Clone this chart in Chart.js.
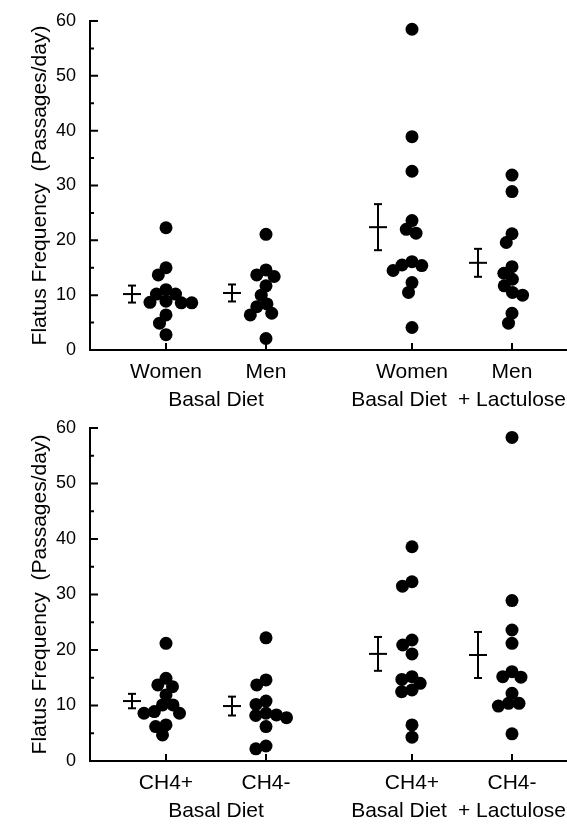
<!DOCTYPE html>
<html>
<head>
<meta charset="utf-8">
<script src="https://cdn.jsdelivr.net/npm/chart.js@4.4.0/dist/chart.umd.min.js"></script>
<style>
  html, body { margin: 0; padding: 0; background: #fff; }
  canvas { display: block; }
</style>
</head>
<body>
<canvas id="sexChart" width="567" height="412"></canvas>
<canvas id="methaneChart" width="567" height="412"></canvas>
<script>
// y axis
const yTicks = [0, 10, 20, 30, 40, 50, 60];
const yTitle = 'Flatus Frequency  (Passages/day)';

// top panel: women / men, basal diet vs basal diet + lactulose
const sexLabels = ['Women', 'Men', 'Women', 'Men'];
const womenBasal = [22.3, 15.0, 13.7, 11.0, 10.2, 10.2, 8.9, 8.7, 8.6, 8.6, 6.4, 4.9, 2.8];
const menBasal = [21.1, 14.6, 13.7, 13.4, 11.7, 10.0, 8.4, 7.9, 6.7, 6.4, 2.1];
const womenLact = [58.5, 38.9, 32.6, 23.6, 22.0, 21.3, 16.1, 15.5, 15.4, 14.5, 12.3, 10.5, 4.1];
const menLact = [31.9, 28.9, 21.2, 19.6, 15.2, 14.0, 12.9, 11.7, 10.5, 10.0, 6.7, 4.9];
const sexMean = [10.2, 10.4, 22.4, 15.9];
const sexSE = [1.55, 1.55, 4.2, 2.55];

// bottom panel: methane producers (CH4+) / non producers (CH4-)
const methaneLabels = ['CH4+', 'CH4-', 'CH4+', 'CH4-'];
const ch4PosBasal = [21.2, 14.9, 13.7, 13.4, 11.9, 10.1, 10.1, 8.9, 8.6, 8.6, 6.5, 6.2, 4.7];
const ch4NegBasal = [22.2, 14.6, 13.7, 10.8, 10.2, 8.6, 8.3, 8.2, 7.8, 6.2, 2.7, 2.2];
const ch4PosLact = [38.6, 32.3, 31.5, 21.8, 20.9, 19.3, 15.2, 14.7, 14.0, 12.8, 12.5, 6.5, 4.3];
const ch4NegLact = [58.3, 28.9, 23.6, 21.2, 16.1, 15.2, 15.1, 12.2, 10.4, 10.4, 9.9, 4.9];
const methaneMean = [10.8, 9.9, 19.3, 19.1];
const methaneSE = [1.3, 1.7, 3.05, 4.15];

const dietLabels = ['Basal Diet', 'Basal Diet', '+ Lactulose'];

const FONT = 'Liberation Sans, Arial, Helvetica, sans-serif';
const X_MIN = 0.24, X_MAX = 5.01;
const PX_X = 100;      // px per x unit (477px plot width / 4.77)
const PX_Y = 5.5;      // px per y unit
const MIN_D = 10.5;    // dot spacing in the swarm, px
const BAR_SHIFT = 0.34;

// category centre: two groups of two, with a wider gap between groups
function groupPos(i) {
  return 1 + i + (i > 1 ? 0.46 : 0);
}

// simple beeswarm so that dots with similar values sit side by side
function swarm(values, centre) {
  const placed = [];
  return values.slice().sort((a, b) => b - a).map(v => {
    const py = v * PX_Y;
    const cands = [0];
    placed.forEach(p => {
      const dy = Math.abs(p.py - py);
      if (dy < MIN_D) {
        const w = Math.sqrt(MIN_D * MIN_D - dy * dy);
        cands.push(p.px - w, p.px + w);
      }
    });
    cands.sort((a, b) => Math.abs(a) - Math.abs(b));
    const px = cands.find(c => placed.every(p => Math.hypot(p.px - c, p.py - py) >= MIN_D - 0.01));
    placed.push({ px, py });
    return { x: centre + px / PX_X, y: v };
  });
}

// inward tick marks like the original
const innerTicks = {
  id: 'innerTicks',
  afterDraw(chart) {
    const ctx = chart.ctx;
    const xs = chart.scales.x, ys = chart.scales.y;
    ctx.save();
    ctx.strokeStyle = '#000';
    ctx.lineWidth = 2;
    ctx.beginPath();
    for (let i = 1; i < yTicks.length; i++) {
      const y = ys.getPixelForValue(yTicks[i]);
      ctx.moveTo(xs.left, y);
      ctx.lineTo(xs.left + 8, y);
      const ym = ys.getPixelForValue((yTicks[i] + yTicks[i - 1]) / 2);
      ctx.moveTo(xs.left, ym);
      ctx.lineTo(xs.left + 4, ym);
    }
    for (let i = 0; i < 4; i++) {
      const x = xs.getPixelForValue(groupPos(i));
      ctx.moveTo(x, ys.bottom);
      ctx.lineTo(x, ys.bottom - 7);
    }
    ctx.stroke();
    ctx.restore();
  }
};

function makePanel(id, groups, means, ses, catLabels, padTop, axisHeight) {
  const datasets = [];
  groups.forEach((vals, i) => {
    datasets.push({
      type: 'scatter',
      data: swarm(vals, groupPos(i)),
      pointRadius: 6.5,
      pointBorderWidth: 0,
      backgroundColor: '#000',
      borderColor: '#000'
    });
    const bx = groupPos(i) - BAR_SHIFT;
    datasets.push({
      type: 'line',
      data: [{ x: bx, y: means[i] - ses[i] }, { x: bx, y: means[i] + ses[i] }],
      borderColor: '#000',
      borderWidth: 2,
      pointRadius: 0
    });
    datasets.push({
      type: 'scatter',
      data: [{ x: bx, y: means[i] - ses[i] }, { x: bx, y: means[i] + ses[i] }],
      pointStyle: 'line',
      pointRadius: 4,
      borderColor: '#000',
      pointBorderWidth: 2
    });
    datasets.push({
      type: 'scatter',
      data: [{ x: bx, y: means[i] }],
      pointStyle: 'line',
      pointRadius: 9,
      borderColor: '#000',
      pointBorderWidth: 2
    });
  });

  // x labels: category on the first line, diet on the second
  const p = [0, 1, 2, 3].map(groupPos);
  const xLabelTicks = [
    { value: p[0], label: [catLabels[0], ''] },
    { value: (p[0] + p[1]) / 2, label: ['', dietLabels[0]] },
    { value: p[1], label: [catLabels[1], ''] },
    { value: p[2] - 0.13, label: ['', dietLabels[1]] },
    { value: p[2], label: [catLabels[2], ''] },
    { value: p[3], label: [catLabels[3], dietLabels[2]] }
  ];

  return new Chart(document.getElementById(id), {
    type: 'scatter',
    data: { datasets },
    plugins: [innerTicks],
    options: {
      responsive: false,
      animation: false,
      layout: { autoPadding: false, padding: { top: padTop, right: 0, bottom: 0, left: 0 } },
      plugins: { legend: { display: false }, tooltip: { enabled: false } },
      scales: {
        x: {
          type: 'linear',
          min: X_MIN,
          max: X_MAX,
          grid: { display: false, drawTicks: false },
          border: { color: '#000', width: 2 },
          afterBuildTicks: s => { s.ticks = xLabelTicks.map(t => ({ value: t.value })); },
          afterFit: s => { s.height = axisHeight; s.paddingLeft = 0; s.paddingRight = 0; },
          ticks: {
            autoSkip: false,
            maxRotation: 0,
            padding: 8,
            color: '#000',
            font: { family: FONT, size: 21, lineHeight: 1.33 },
            callback: (v, i) => xLabelTicks[i].label
          }
        },
        y: {
          min: 0,
          max: 60,
          grid: { display: false, drawTicks: false },
          border: { color: '#000', width: 2 },
          afterFit: s => { s.width = 90; s.paddingTop = 0; s.paddingBottom = 0; },
          ticks: {
            stepSize: 10,
            padding: 14,
            color: '#000',
            font: { family: FONT, size: 18 }
          },
          title: {
            display: true,
            text: yTitle,
            color: '#000',
            padding: { top: 28, bottom: 0 },
            font: { family: FONT, size: 21 }
          }
        }
      }
    }
  });
}

makePanel('sexChart', [womenBasal, menBasal, womenLact, menLact], sexMean, sexSE, sexLabels, 21, 62);
makePanel('methaneChart', [ch4PosBasal, ch4NegBasal, ch4PosLact, ch4NegLact], methaneMean, methaneSE, methaneLabels, 16, 63);
</script>
</body>
</html>
